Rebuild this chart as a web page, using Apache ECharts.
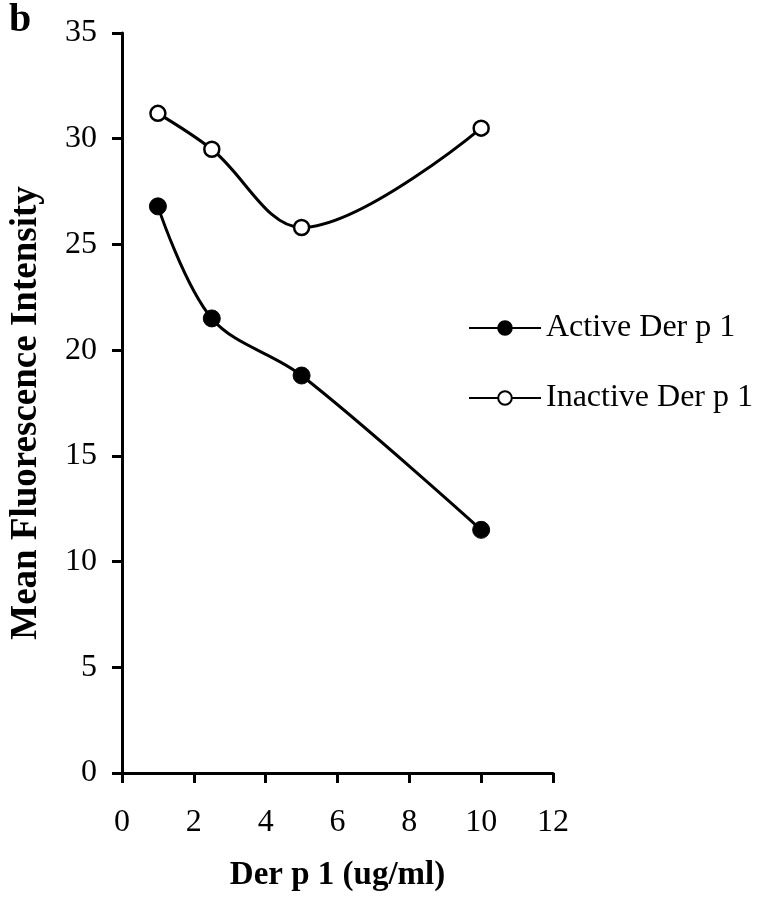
<!DOCTYPE html>
<html><head><meta charset="utf-8">
<script src="https://cdn.jsdelivr.net/npm/echarts@6/dist/echarts.min.js"></script>
<style>html,body{margin:0;padding:0;background:#fff}#c{width:761px;height:899px}</style>
</head><body><div id="c"></div>
<script>
const doses = [1, 2.5, 5, 10];
const activeValues = [26.8, 21.5, 18.8, 11.5];
const inactiveValues = [31.2, 29.5, 25.8, 30.5];
const xTicks = [0, 2, 4, 6, 8, 10, 12];
const yTicks = [0, 5, 10, 15, 20, 25, 30, 35];

const font = 'Liberation Serif, Times New Roman, serif';
const chart = echarts.init(document.getElementById('c'), null, {renderer: 'canvas'});
chart.setOption({
  backgroundColor: '#fff',
  animation: false,
  grid: {left: 118, right: 208, top: 33, bottom: 126, containLabel: false},
  title: {text: 'b', left: 4, top: -4, textStyle: {fontFamily: font, fontSize: 40, fontWeight: 'bold', color: '#000'}},
  legend: {
    orient: 'vertical', left: 463, top: 307, itemGap: 38,
    itemWidth: 72, itemHeight: 17,
    textStyle: {fontFamily: font, fontSize: 32, color: '#000'},
    data: ['Active Der p 1', 'Inactive Der p 1']
  },
  xAxis: {
    type: 'value', min: xTicks[0], max: xTicks[xTicks.length - 1], interval: 2,
    name: 'Der p 1 (ug/ml)', nameLocation: 'middle', nameGap: 86, nameMoveOverlap: false,
    nameTextStyle: {fontFamily: font, fontSize: 33, fontWeight: 'bold', color: '#000'},
    axisLine: {onZero: false, lineStyle: {color: '#000', width: 3}},
    axisTick: {show: true, length: 10, inside: false, lineStyle: {color: '#000', width: 3}},
    axisLabel: {fontFamily: font, fontSize: 32, color: '#000', margin: 34},
    splitLine: {show: false}
  },
  yAxis: {
    type: 'value', min: yTicks[0], max: yTicks[yTicks.length - 1], interval: 5,
    name: 'Mean Fluorescence Intensity', nameLocation: 'middle', nameGap: 77, nameRotate: 90, nameMoveOverlap: false,
    nameTextStyle: {fontFamily: font, fontSize: 37, fontWeight: 'bold', color: '#000', padding: [0, 20, 0, 0]},
    axisLine: {show: true, onZero: false, lineStyle: {color: '#000', width: 3}},
    axisTick: {show: true, length: 10, lineStyle: {color: '#000', width: 3}},
    axisLabel: {fontFamily: font, fontSize: 32, color: '#000', margin: 25},
    splitLine: {show: false}
  },
  series: [
    {
      name: 'Active Der p 1', type: 'line', smooth: 0.35,
      data: doses.map((d, i) => [d, activeValues[i]]),
      symbol: 'circle', symbolSize: 17,
      lineStyle: {color: '#000', width: 3},
      itemStyle: {color: '#000', borderColor: '#000', borderWidth: 1}
    },
    {
      name: 'Inactive Der p 1', type: 'line', smooth: 0.35,
      data: doses.map((d, i) => [d, inactiveValues[i]]),
      symbol: 'circle', symbolSize: 15,
      lineStyle: {color: '#000', width: 3},
      itemStyle: {color: '#fff', borderColor: '#000', borderWidth: 2.5}
    }
  ]
});
</script></body></html>
